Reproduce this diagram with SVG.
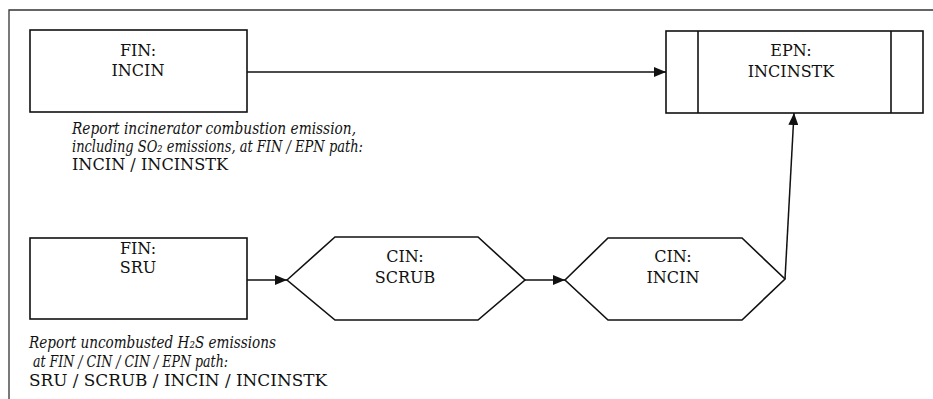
<svg xmlns="http://www.w3.org/2000/svg" width="933" height="399" viewBox="0 0 933 399">
<defs>
<style>
.shape{fill:#fff;stroke:#111;stroke-width:1.6}
.frame{fill:none;stroke:#333;stroke-width:1.3}
text{font-family:"DejaVu Serif","Liberation Serif",serif;fill:#111}
.lbl{font-size:16px;text-anchor:middle}
.note{font-size:16.5px;font-style:italic}
.plain{font-size:16px}
.conn{fill:none;stroke:#111;stroke-width:1.5}
</style>
<marker id="ah" markerWidth="12" markerHeight="10" refX="12" refY="5" orient="auto" markerUnits="userSpaceOnUse">
<path d="M0,0 L12,5 L0,10 Z" fill="#111"/>
</marker>
</defs>
<rect width="933" height="399" fill="#fff"/>
<path class="frame" d="M9,399 V10 H933"/>

<g id="fin-incin">
<rect class="shape" x="30" y="30" width="217" height="82"/>
<text class="lbl" x="138" y="56">FIN:</text>
<text class="lbl" x="138" y="76">INCIN</text>
</g>

<g id="epn-incinstk">
<rect class="shape" x="666" y="31" width="257" height="82"/>
<line class="shape" x1="698" y1="31" x2="698" y2="113"/>
<line class="shape" x1="891" y1="31" x2="891" y2="113"/>
<text class="lbl" x="791" y="56">EPN:</text>
<text class="lbl" x="791" y="77">INCINSTK</text>
</g>

<g id="fin-sru">
<rect class="shape" x="30" y="238" width="217" height="81"/>
<text class="lbl" x="138" y="254">FIN:</text>
<text class="lbl" x="138" y="273">SRU</text>
</g>

<g id="cin-scrub">
<polygon class="shape" points="287,280 335,237 478,237 525,280 478,320 335,320"/>
<text class="lbl" x="405" y="262">CIN:</text>
<text class="lbl" x="405" y="283">SCRUB</text>
</g>

<g id="cin-incin">
<polygon class="shape" points="565,280 608,238 742,238 785,279 742,320 608,320"/>
<text class="lbl" x="673" y="262">CIN:</text>
<text class="lbl" x="673" y="283">INCIN</text>
</g>

<g id="note-incin">
<text class="note" x="72" y="134" textLength="284" lengthAdjust="spacingAndGlyphs">Report incinerator combustion emission,</text>
<text class="note" x="72" y="152" textLength="291" lengthAdjust="spacingAndGlyphs">including SO₂ emissions, at FIN / EPN path:</text>
<text class="plain" x="72" y="170" textLength="156" lengthAdjust="spacingAndGlyphs">INCIN / INCINSTK</text>
</g>

<g id="note-sru">
<text class="note" x="29" y="348" textLength="247" lengthAdjust="spacingAndGlyphs">Report uncombusted H₂S emissions</text>
<text class="note" x="33" y="367" textLength="195" lengthAdjust="spacingAndGlyphs">at FIN / CIN / CIN / EPN path:</text>
<text class="plain" x="29" y="386" textLength="298" lengthAdjust="spacingAndGlyphs">SRU / SCRUB / INCIN / INCINSTK</text>
</g>

<g id="connectors">
<line class="conn" x1="247" y1="72" x2="666" y2="72" marker-end="url(#ah)"/>
<line class="conn" x1="247" y1="280" x2="287" y2="280" marker-end="url(#ah)"/>
<line class="conn" x1="525" y1="280" x2="565" y2="280" marker-end="url(#ah)"/>
<line class="conn" x1="785" y1="279" x2="794" y2="113" marker-end="url(#ah)"/>
</g>
</svg>
